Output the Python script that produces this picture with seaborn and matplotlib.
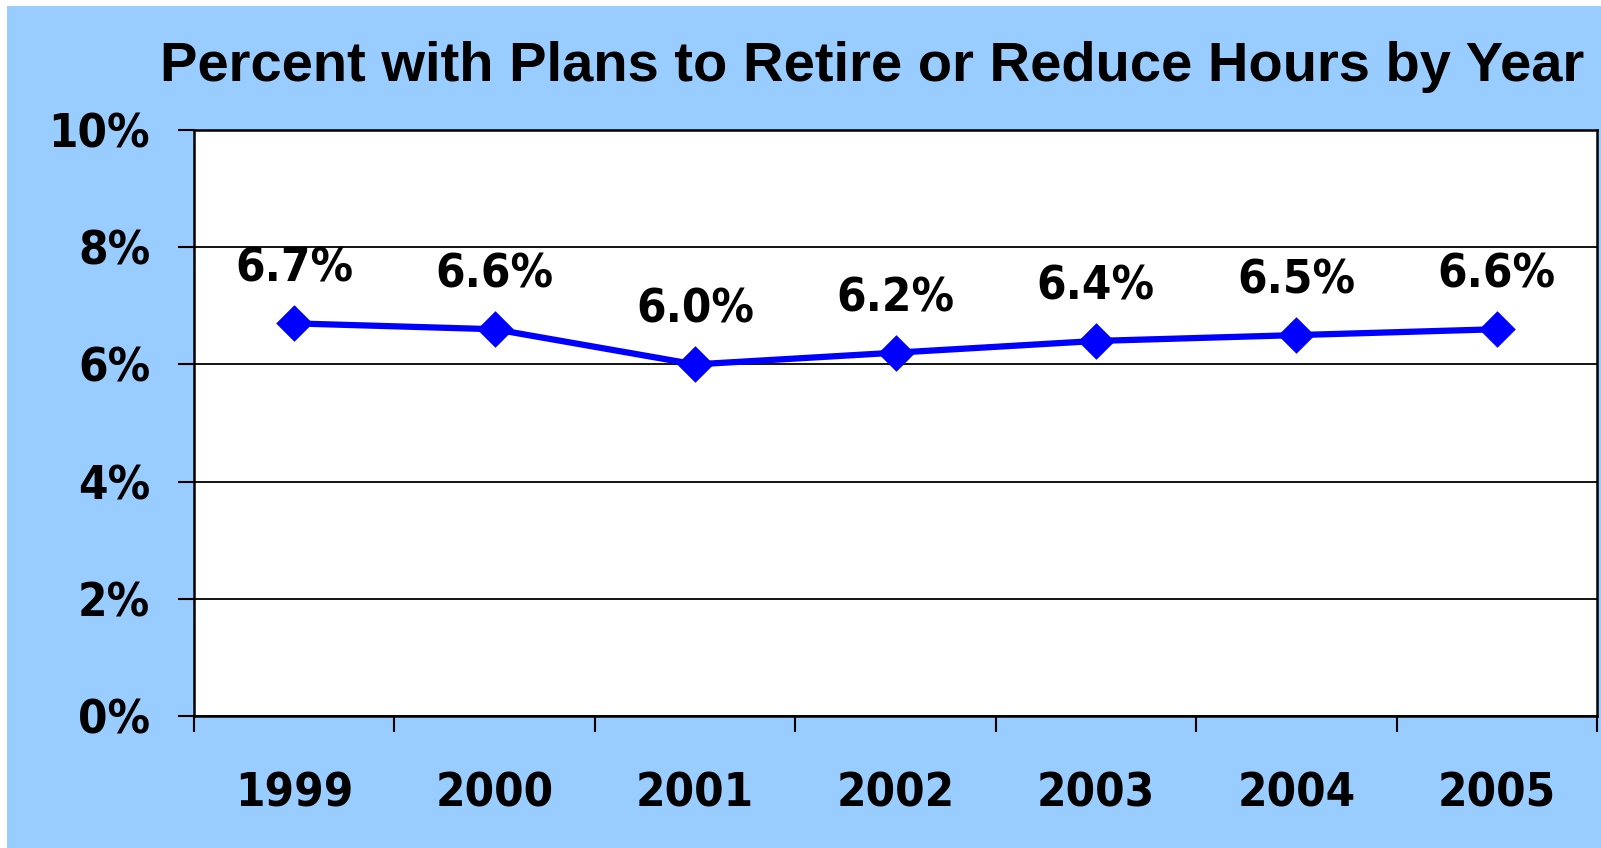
import matplotlib
matplotlib.use("Agg")
import matplotlib.pyplot as plt
from matplotlib.patches import Rectangle
from matplotlib.ticker import PercentFormatter, FixedLocator
import seaborn as sns
import pandas as pd

years = ["1999", "2000", "2001", "2002", "2003", "2004", "2005"]
values = [6.7, 6.6, 6.0, 6.2, 6.4, 6.5, 6.6]
y_ticks = [0, 2, 4, 6, 8, 10]
title = "Percent with Plans to Retire or Reduce Hours by Year"

df = pd.DataFrame({"year": years, "pct": values})

sns.set_theme(style="white")
plt.rcParams["font.family"] = ["DejaVu Sans"]

W, H = 1601, 848
fig = plt.figure(figsize=(W / 100, H / 100), dpi=100)
fig.patch.set_facecolor("white")
bg = Rectangle((7 / W, 0), 1 - 7 / W, 1 - 6 / H, transform=fig.transFigure,
               facecolor="#99CCFF", edgecolor="none", zorder=-10)
fig.patches.append(bg)

ax = fig.add_axes([194 / W, 1 - 716 / H, (1597 - 194) / W, (716 - 130) / H])
ax.set_zorder(1)
ax.set_facecolor("white")

sns.pointplot(data=df, x="year", y="pct", ax=ax, color="#0000FF", markers="D",
              linestyles="-", errorbar=None, markersize=15, linewidth=4.5)

n = len(years)
ax.set_xlim(-0.5, n - 0.5)
ax.set_ylim(y_ticks[0], y_ticks[-1])
ax.set_yticks(y_ticks)
ax.yaxis.set_major_formatter(PercentFormatter(decimals=0))
ax.yaxis.grid(True, color="black", linewidth=1.3)
ax.set_axisbelow(True)
ax.set_xlabel("")
ax.set_ylabel("")

for s in ax.spines.values():
    s.set_color("black")
    s.set_linewidth(1.8)
    s.set_visible(True)

LBL = 34
ax.tick_params(axis="x", which="major", length=0, pad=40, labelsize=LBL, labelcolor="black")
ax.xaxis.set_minor_locator(FixedLocator([i - 0.5 for i in range(n + 1)]))
ax.tick_params(axis="x", which="minor", bottom=True, direction="out", length=11.5, width=1.5, color="black")
ax.tick_params(axis="y", which="major", left=True, direction="out", length=11.5, width=1.5,
               color="black", pad=20, labelsize=LBL, labelcolor="black")
for lab in ax.get_xticklabels() + ax.get_yticklabels():
    lab.set_fontweight("bold")
    lab.set_fontstretch("condensed")

for i, v in enumerate(values):
    ax.annotate(f"{v:.1f}%", (i, v), xytext=(0, 30), textcoords="offset points",
                ha="center", va="baseline", fontsize=LBL, fontweight="bold",
                fontstretch="condensed", color="black")

fig.text(872 / W, 1 - 81 / H, title, ha="center", va="baseline", fontsize=40.4,
         fontweight="bold", family=["Liberation Sans", "DejaVu Sans"], color="black")

fig.savefig("out.png", dpi=100, facecolor=fig.get_facecolor())
